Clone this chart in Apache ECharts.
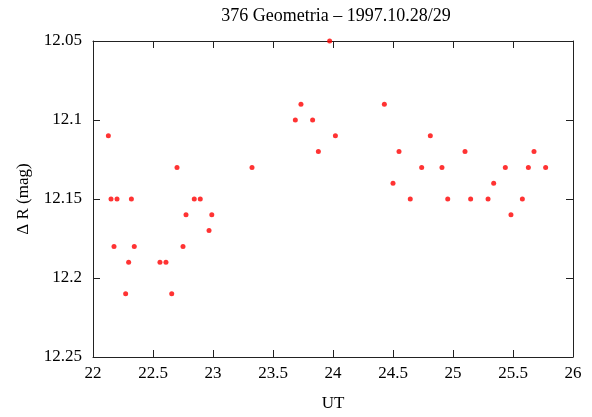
<!DOCTYPE html>
<html><head><meta charset="utf-8">
<script src="https://cdn.jsdelivr.net/npm/echarts@6/dist/echarts.min.js"></script>
<style>html,body{margin:0;padding:0;background:#fff}#c{width:592px;height:417px}</style>
</head><body><div id="c"></div>
<script>
const titleText = "376 Geometria – 1997.10.28/29";
const xName = "UT";
const yName = "Δ R (mag)";
const ut = [22.128,22.15,22.175,22.2,22.272,22.297,22.32,22.344,22.558,22.608,22.656,22.70,22.75,22.775,22.844,22.894,22.967,22.99,23.325,23.686,23.733,23.83,23.878,23.972,24.02,24.428,24.5,24.55,24.644,24.739,24.811,24.908,24.956,25.1,25.147,25.292,25.339,25.436,25.483,25.578,25.628,25.675,25.772];
const mag = [12.11,12.15,12.18,12.15,12.21,12.19,12.15,12.18,12.19,12.19,12.21,12.13,12.18,12.16,12.15,12.15,12.17,12.16,12.13,12.10,12.09,12.10,12.12,12.05,12.11,12.09,12.14,12.12,12.15,12.13,12.11,12.13,12.15,12.12,12.15,12.15,12.14,12.13,12.16,12.15,12.13,12.12,12.13];
const xRange = [22, 26, 0.5];
const yRange = [12.05, 12.25, 0.05];

const font = "'Liberation Serif','Times New Roman',serif";
const axisCol = '#222';
const fmt = v => String(Math.round(v*1000)/1000);
const chart = echarts.init(document.getElementById('c'));
const baseAxis = {
  axisLine:{show:true,onZero:false,lineStyle:{color:axisCol,width:1}},
  axisTick:{show:true,inside:true,length:7,lineStyle:{color:axisCol,width:1}},
  splitLine:{show:false}
};
chart.setOption({
  animation:false,
  title:{text:titleText,left:331,top:2,textAlign:'center',textStyle:{fontFamily:font,fontSize:18,fontWeight:'normal',color:'#000'}},
  grid:{left:93,right:19,top:41,bottom:60,containLabel:false},
  xAxis:[
    Object.assign({type:'value',position:'bottom',min:xRange[0],max:xRange[1],interval:xRange[2],
      name:xName,nameLocation:'middle',nameGap:38,nameTextStyle:{fontFamily:font,fontSize:17,color:'#000'},
      axisLabel:{fontFamily:font,fontSize:17,color:'#000',margin:8,formatter:fmt}},baseAxis),
    Object.assign({type:'value',position:'top',min:xRange[0],max:xRange[1],interval:xRange[2],axisLabel:{show:false}},baseAxis)
  ],
  yAxis:[
    Object.assign({type:'value',position:'left',inverse:true,min:yRange[0],max:yRange[1],interval:yRange[2],
      name:yName,nameLocation:'middle',nameGap:61,nameRotate:90,nameTextStyle:{fontFamily:font,fontSize:17,color:'#000'},
      axisLabel:{fontFamily:font,fontSize:17,color:'#000',margin:11,formatter:fmt}},baseAxis),
    Object.assign({type:'value',position:'right',inverse:true,min:yRange[0],max:yRange[1],interval:yRange[2],axisLabel:{show:false}},baseAxis)
  ],
  series:[{type:'scatter',data:ut.map((x,i)=>[x,mag[i]]),symbol:'circle',symbolSize:5,
    itemStyle:{color:'#ff0000'},clip:false}]
});
</script></body></html>
